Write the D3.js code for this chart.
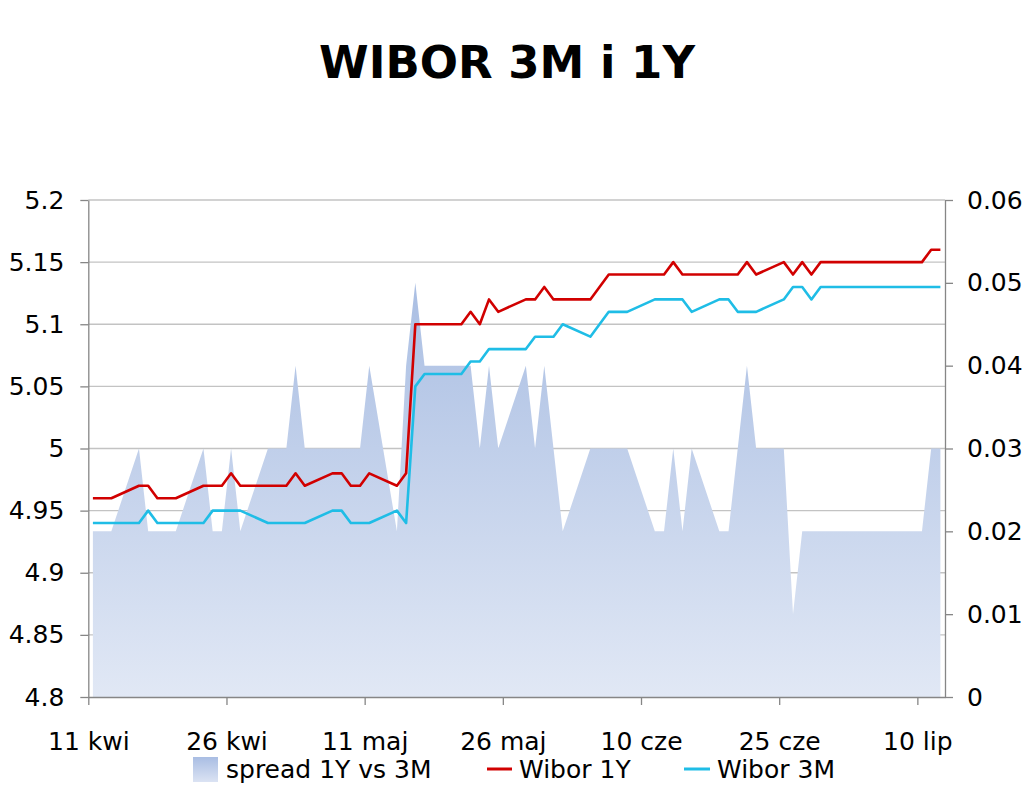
<!DOCTYPE html>
<html lang="pl">
<head>
<meta charset="utf-8">
<title>WIBOR 3M i 1Y</title>
<script src="https://cdn.jsdelivr.net/npm/d3@7"></script>
<style>
  html, body { margin: 0; padding: 0; background: #fff; }
  svg { display: block; font-family: "DejaVu Sans", sans-serif; }
</style>
</head>
<body>
<svg width="1024" height="791"></svg>
<script>
const dates = [
  "2012-04-11", "2012-04-12", "2012-04-13", "2012-04-16", "2012-04-17", "2012-04-18", "2012-04-19", "2012-04-20",
  "2012-04-23", "2012-04-24", "2012-04-25", "2012-04-26", "2012-04-27", "2012-04-30", "2012-05-01", "2012-05-02",
  "2012-05-03", "2012-05-04", "2012-05-07", "2012-05-08", "2012-05-09", "2012-05-10", "2012-05-11", "2012-05-14",
  "2012-05-15", "2012-05-16", "2012-05-17", "2012-05-18", "2012-05-21", "2012-05-22", "2012-05-23", "2012-05-24",
  "2012-05-25", "2012-05-28", "2012-05-29", "2012-05-30", "2012-05-31", "2012-06-01", "2012-06-04", "2012-06-05",
  "2012-06-06", "2012-06-07", "2012-06-08", "2012-06-11", "2012-06-12", "2012-06-13", "2012-06-14", "2012-06-15",
  "2012-06-18", "2012-06-19", "2012-06-20", "2012-06-21", "2012-06-22", "2012-06-25", "2012-06-26", "2012-06-27",
  "2012-06-28", "2012-06-29", "2012-07-02", "2012-07-03", "2012-07-04", "2012-07-05", "2012-07-06", "2012-07-09",
  "2012-07-10", "2012-07-11", "2012-07-12"
];

const wibor1Y = [
  4.96, 4.96, 4.96, 4.97, 4.97, 4.96, 4.96, 4.96,
  4.97, 4.97, 4.97, 4.98, 4.97, 4.97, 4.97, 4.97,
  4.98, 4.97, 4.98, 4.98, 4.97, 4.97, 4.98, 4.97,
  4.98, 5.10, 5.10, 5.10, 5.10, 5.11, 5.10, 5.12,
  5.11, 5.12, 5.12, 5.13, 5.12, 5.12, 5.12, 5.13,
  5.14, 5.14, 5.14, 5.14, 5.14, 5.15, 5.14, 5.14,
  5.14, 5.14, 5.14, 5.15, 5.14, 5.15, 5.14, 5.15,
  5.14, 5.15, 5.15, 5.15, 5.15, 5.15, 5.15, 5.15,
  5.15, 5.16, 5.16
];

const wibor3M = [
  4.94, 4.94, 4.94, 4.94, 4.95, 4.94, 4.94, 4.94,
  4.94, 4.95, 4.95, 4.95, 4.95, 4.94, 4.94, 4.94,
  4.94, 4.94, 4.95, 4.95, 4.94, 4.94, 4.94, 4.95,
  4.94, 5.05, 5.06, 5.06, 5.06, 5.07, 5.07, 5.08,
  5.08, 5.08, 5.09, 5.09, 5.09, 5.10, 5.09, 5.10,
  5.11, 5.11, 5.11, 5.12, 5.12, 5.12, 5.12, 5.11,
  5.12, 5.12, 5.11, 5.11, 5.11, 5.12, 5.13, 5.13,
  5.12, 5.13, 5.13, 5.13, 5.13, 5.13, 5.13, 5.13,
  5.13, 5.13, 5.13
];

const spread = [
  0.02, 0.02, 0.02, 0.03, 0.02, 0.02, 0.02, 0.02,
  0.03, 0.02, 0.02, 0.03, 0.02, 0.03, 0.03, 0.03,
  0.04, 0.03, 0.03, 0.03, 0.03, 0.03, 0.04, 0.02,
  0.04, 0.05, 0.04, 0.04, 0.04, 0.04, 0.03, 0.04,
  0.03, 0.04, 0.03, 0.04, 0.03, 0.02, 0.03, 0.03,
  0.03, 0.03, 0.03, 0.02, 0.02, 0.03, 0.02, 0.03,
  0.02, 0.02, 0.03, 0.04, 0.03, 0.03, 0.01, 0.02,
  0.02, 0.02, 0.02, 0.02, 0.02, 0.02, 0.02, 0.02,
  0.02, 0.03, 0.03
];

const leftTicks = [4.8, 4.85, 4.9, 4.95, 5, 5.05, 5.1, 5.15, 5.2];
const rightTicks = [0, 0.01, 0.02, 0.03, 0.04, 0.05, 0.06];
const xTickDates = ["2012-04-11", "2012-04-26", "2012-05-11", "2012-05-26", "2012-06-10", "2012-06-25", "2012-07-10"];
const monthNames = ["sty", "lut", "mar", "kwi", "maj", "cze", "lip", "sie", "wrz", "paź", "lis", "gru"];
const seriesNames = ["spread 1Y vs 3M", "Wibor 1Y", "Wibor 3M"];

const parse = d3.timeParse("%Y-%m-%d");
const svg = d3.select("svg");

const plotLeft = 88.3, plotRight = 945, plotTop = 200, plotBottom = 697;

const x = d3.scaleTime()
  .domain([parse("2012-04-11"), parse("2012-07-13")])
  .range([plotLeft, plotRight]);
const yLeft = d3.scaleLinear().domain([4.8, 5.2]).range([plotBottom, plotTop]);
const yRight = d3.scaleLinear().domain([0, 0.06]).range([plotBottom, plotTop]);

// points sit in the middle of their day
const xDay = d => x(d3.timeHour.offset(parse(d), 12));

const rows = dates.map((d, i) => ({ date: d, y1: wibor1Y[i], m3: wibor3M[i], s: spread[i] }));

const defs = svg.append("defs");
const grad = defs.append("linearGradient")
  .attr("id", "areaGrad")
  .attr("gradientUnits", "userSpaceOnUse")
  .attr("x1", 0).attr("y1", plotTop).attr("x2", 0).attr("y2", plotBottom);
grad.append("stop").attr("offset", 0).attr("stop-color", "#9fb6df");
grad.append("stop").attr("offset", 1).attr("stop-color", "#e1e8f5");

const swatchGrad = defs.append("linearGradient")
  .attr("id", "swatchGrad")
  .attr("x1", 0).attr("y1", 0).attr("x2", 0).attr("y2", 1);
swatchGrad.append("stop").attr("offset", 0).attr("stop-color", "#a9bde3");
swatchGrad.append("stop").attr("offset", 1).attr("stop-color", "#dbe3f3");

// title
svg.append("text")
  .attr("x", 507)
  .attr("y", 78)
  .attr("text-anchor", "middle")
  .attr("font-size", 45)
  .attr("font-weight", "bold")
  .text("WIBOR 3M i 1Y");

// gridlines
svg.append("g")
  .selectAll("line")
  .data(leftTicks.filter(t => t > 4.8))
  .enter()
  .append("line")
  .attr("x1", plotLeft)
  .attr("x2", plotRight)
  .attr("y1", d => yLeft(d))
  .attr("y2", d => yLeft(d))
  .attr("stroke", "#c3c3c3")
  .attr("stroke-width", 1.3);

// spread area
svg.append("path")
  .datum(rows)
  .attr("fill", "url(#areaGrad)")
  .attr("d", d3.area()
    .x(d => xDay(d.date))
    .y0(yRight(0))
    .y1(d => yRight(d.s)));

// lines
svg.append("path")
  .datum(rows)
  .attr("fill", "none")
  .attr("stroke", "#d10000")
  .attr("stroke-width", 2.6)
  .attr("stroke-linejoin", "round")
  .attr("d", d3.line().x(d => xDay(d.date)).y(d => yLeft(d.y1)));

svg.append("path")
  .datum(rows)
  .attr("fill", "none")
  .attr("stroke", "#1fbde6")
  .attr("stroke-width", 2.6)
  .attr("stroke-linejoin", "round")
  .attr("d", d3.line().x(d => xDay(d.date)).y(d => yLeft(d.m3)));

// axes
const styleAxis = g => {
  g.selectAll(".domain").attr("stroke", "#868686").attr("stroke-width", 1.3);
  g.selectAll(".tick line").attr("stroke", "#868686").attr("stroke-width", 1.3);
  g.selectAll("text").attr("fill", "#000").attr("font-size", 25).attr("font-family", "DejaVu Sans, sans-serif");
};

svg.append("g")
  .attr("transform", `translate(${plotLeft},0)`)
  .call(d3.axisLeft(yLeft).tickValues(leftTicks).tickSize(8).tickSizeOuter(0).tickPadding(16).tickFormat(d3.format("~g")))
  .call(styleAxis);

svg.append("g")
  .attr("transform", `translate(${plotRight},0)`)
  .call(d3.axisRight(yRight).tickValues(rightTicks).tickSize(8).tickSizeOuter(0).tickPadding(14).tickFormat(d3.format("~g")))
  .call(styleAxis);

svg.append("g")
  .attr("transform", `translate(0,${plotBottom})`)
  .call(d3.axisBottom(x)
    .tickValues(xTickDates.map(parse))
    .tickSize(8)
    .tickSizeOuter(0)
    .tickPadding(27)
    .tickFormat(d => `${d.getDate()} ${monthNames[d.getMonth()]}`))
  .call(styleAxis);

// legend
const legend = svg.append("g").attr("font-size", 25);

legend.append("rect")
  .attr("x", 193).attr("y", 757).attr("width", 25).attr("height", 25)
  .attr("fill", "url(#swatchGrad)");
legend.append("text").attr("x", 226).attr("y", 778).text(seriesNames[0]);

legend.append("line")
  .attr("x1", 487).attr("x2", 512).attr("y1", 769).attr("y2", 769)
  .attr("stroke", "#d10000").attr("stroke-width", 3);
legend.append("text").attr("x", 519).attr("y", 778).text(seriesNames[1]);

legend.append("line")
  .attr("x1", 684).attr("x2", 710).attr("y1", 769).attr("y2", 769)
  .attr("stroke", "#1fbde6").attr("stroke-width", 3);
legend.append("text").attr("x", 717).attr("y", 778).text(seriesNames[2]);
</script>
</body>
</html>
